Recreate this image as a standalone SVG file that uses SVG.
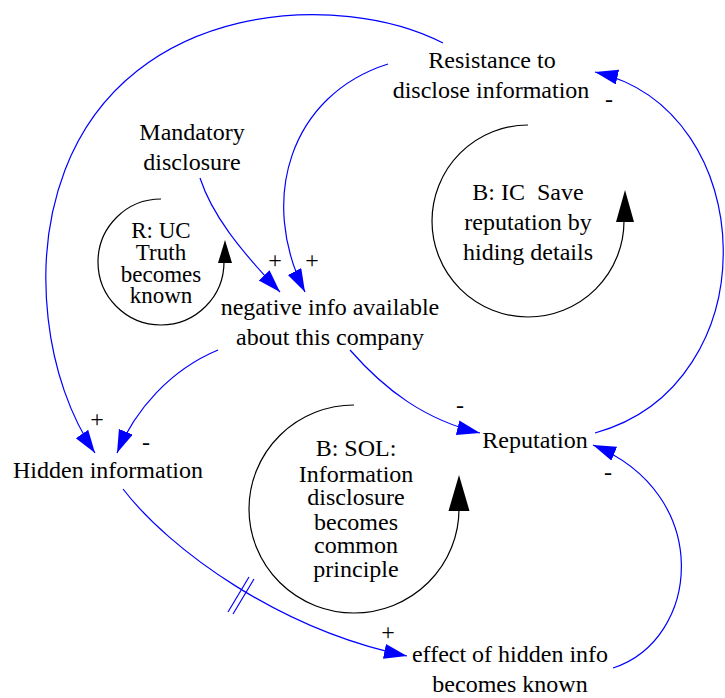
<svg xmlns="http://www.w3.org/2000/svg" width="725" height="698" viewBox="0 0 725 698">
  <style>
    text { font-family: 'Liberation Serif', 'DejaVu Serif', serif; font-size: 24px; fill: #000; text-anchor: middle; }
    .tight { font-size: 23px; }
    .link { fill: none; stroke: #0000FF; stroke-width: 1.2; }
    .loop { fill: none; stroke: #000; stroke-width: 1.2; }
    .loophead { fill: #000; }
    .delay { stroke: #0000FF; stroke-width: 1.2; }
  </style>
  <defs>
    <marker id="arrow" markerUnits="userSpaceOnUse" markerWidth="24" markerHeight="16" refX="23" refY="7.5" orient="auto">
      <path d="M0,0 L23,7.5 L0,15 z" fill="#0000FF"/>
    </marker>
  </defs>

  <rect width="725" height="698" fill="#fff"/>

  <!-- causal links -->
  <g id="connectors">
    <path class="link" d="M200,178 C212,215 240,250 280,292" marker-end="url(#arrow)"/>
    <path class="link" d="M388,64 C290,95 258,200 305,292" marker-end="url(#arrow)"/>
    <path class="link" d="M443,43 C340,-10 130,0 65,170 C30,262 45,380 95,453" marker-end="url(#arrow)"/>
    <path class="link" d="M218,350 C170,370 135,410 117,453" marker-end="url(#arrow)"/>
    <path class="link" d="M350,350 C385,390 425,420 480,433" marker-end="url(#arrow)"/>
    <path class="link" d="M595,433 C770,385 762,110 595,72" marker-end="url(#arrow)"/>
    <path class="link" d="M123,489 C170,550 280,630 407,656" marker-end="url(#arrow)"/>
    <path class="link" d="M613,668 C700,640 715,495 593,445" marker-end="url(#arrow)"/>
    <!-- delay mark -->
    <line class="delay" x1="228" y1="612" x2="249" y2="577"/>
    <line class="delay" x1="233" y1="614" x2="254" y2="579"/>
    <!-- polarities -->
    <text x="275" y="268">+</text>
    <text x="312" y="268">+</text>
    <text x="97" y="427">+</text>
    <text x="146" y="450">-</text>
    <text x="460" y="413">-</text>
    <text x="609" y="107">-</text>
    <text x="608" y="480">-</text>
    <text x="388" y="640">+</text>
  </g>

  <!-- variables -->
  <g id="resistance">
    <text x="492" y="68">Resistance to</text>
    <text x="491" y="98">disclose information</text>
  </g>
  <g id="mandatory">
    <text x="192" y="140">Mandatory</text>
    <text x="192" y="170">disclosure</text>
  </g>
  <g id="negative-info">
    <text x="330" y="315">negative info available</text>
    <text x="330" y="345">about this company</text>
  </g>
  <g id="hidden-info">
    <text x="108" y="478">Hidden information</text>
  </g>
  <g id="reputation">
    <text x="535" y="448">Reputation</text>
  </g>
  <g id="effect-hidden">
    <text x="510" y="662">effect of hidden info</text>
    <text x="510" y="692">becomes known</text>
  </g>

  <!-- loop identifiers -->
  <g id="loop-uc">
    <path class="loop" d="M161,199 A63,63 0 1 0 224,262"/>
    <polygon class="loophead" points="225,240 218,263 232,263"/>
    <text class="tight" x="161" y="238">R: UC</text>
    <text class="tight" x="161" y="260">Truth</text>
    <text class="tight" x="161" y="282">becomes</text>
    <text class="tight" x="161" y="303">known</text>
  </g>
  <g id="loop-ic">
    <path class="loop" d="M528,125 A96,96 0 1 0 624,221"/>
    <polygon class="loophead" points="625,190 616,222 634,222"/>
    <text x="528" y="200" xml:space="preserve">B: IC  Save</text>
    <text x="528" y="230">reputation by</text>
    <text x="528" y="260">hiding details</text>
  </g>
  <g id="loop-sol">
    <path class="loop" d="M354,405 A105,104 0 1 0 459,509"/>
    <polygon class="loophead" points="459,475 448.5,511 469.5,511"/>
    <text x="356" y="456">B: SOL:</text>
    <text x="356" y="482">Information</text>
    <text x="356" y="505">disclosure</text>
    <text x="356" y="530">becomes</text>
    <text x="356" y="553">common</text>
    <text x="356" y="577">principle</text>
  </g>
</svg>
